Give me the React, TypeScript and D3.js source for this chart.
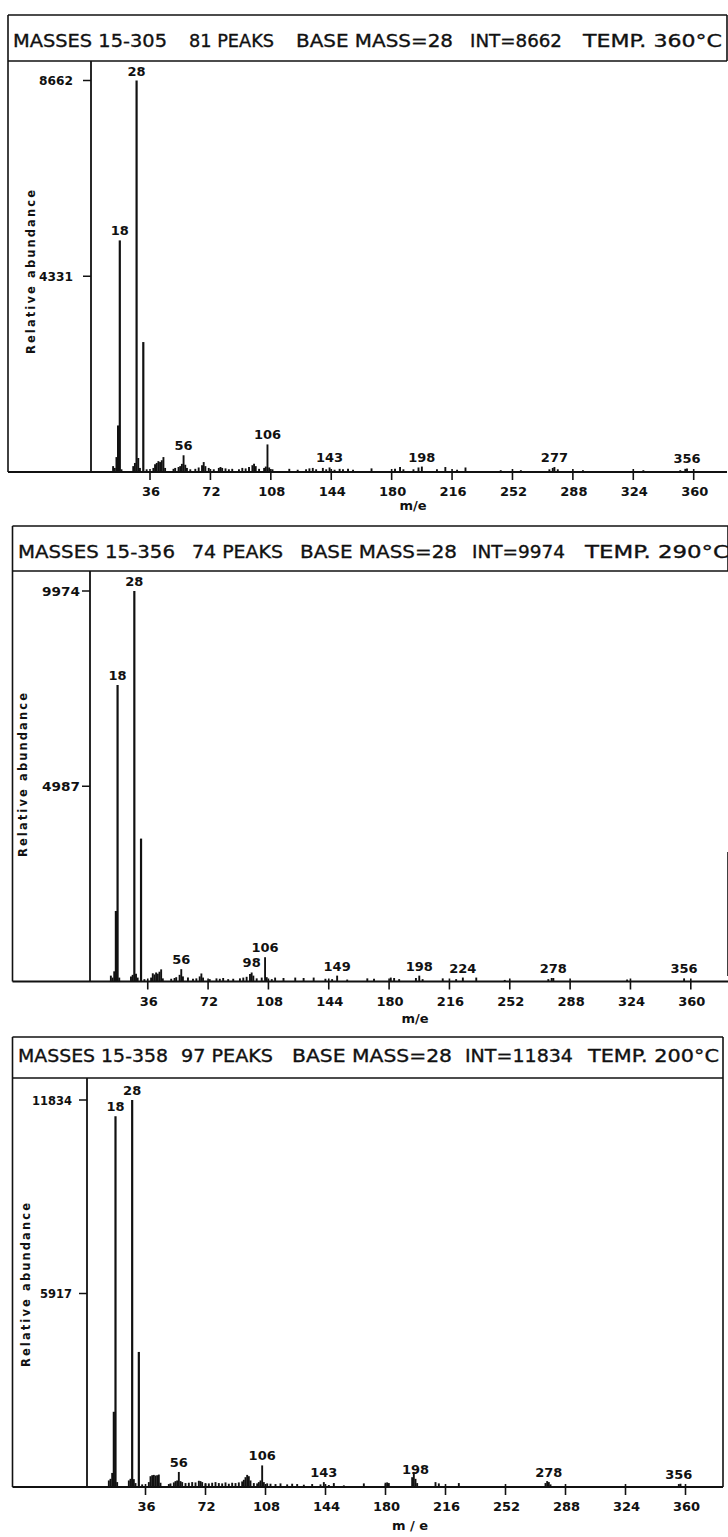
import React from "react";
import * as d3 from "d3";

// ---------- DATA ----------
const xTicks = [36, 72, 108, 144, 180, 216, 252, 288, 324, 360];

const header1 = ["MASSES 15-305", "81 PEAKS", "BASE MASS=28", "INT=8662", "TEMP. 360°C"];
const header2 = ["MASSES 15-356", "74 PEAKS", "BASE MASS=28", "INT=9974", "TEMP. 290°C"];
const header3 = ["MASSES 15-358", "97 PEAKS", "BASE MASS=28", "INT=11834", "TEMP. 200°C"];

const yMax1 = 8662;
const yMax2 = 9974;
const yMax3 = 11834;

const labels1 = [18, 28, 56, 106, 143, 198, 277, 356];
const labels2 = [18, 28, 56, 98, 106, 149, 198, 224, 278, 356];
const labels3 = [18, 28, 56, 106, 143, 198, 278, 356];

// [m/e, abundance]
const peaks1: [number, number][] = [
  [14, 130], [15, 90], [16, 330], [17, 1030], [18, 5124], [19, 60], [26, 130], [27, 200],
  [28, 8662], [29, 310], [30, 90], [32, 2875], [34, 60], [38, 90], [39, 170], [40, 200],
  [41, 240], [42, 220], [43, 260], [44, 330], [45, 90], [50, 70], [51, 90], [53, 110],
  [54, 130], [55, 180], [56, 370], [57, 160], [58, 90], [60, 60], [63, 70], [65, 100],
  [67, 150], [68, 220], [69, 130], [71, 90], [74, 60], [77, 90], [78, 110], [79, 90],
  [81, 80], [83, 60], [85, 70], [89, 60], [91, 90], [93, 80], [95, 110], [97, 150],
  [98, 180], [99, 130], [101, 70], [104, 90], [105, 120], [106, 610], [107, 100], [109, 60],
  [119, 70], [124, 50], [129, 60], [131, 80], [133, 90], [135, 60], [139, 90], [141, 60],
  [143, 100], [146, 50], [149, 70], [151, 60], [154, 70], [157, 50], [168, 80], [182, 70],
  [185, 110], [187, 60], [193, 60], [196, 100], [198, 120], [207, 60], [212, 110], [219, 50],
  [224, 100], [245, 40], [257, 40], [274, 60], [276, 90], [277, 110], [279, 60], [294, 40],
  [330, 40], [352, 40], [355, 70], [356, 80],
];

const peaks2: [number, number][] = [
  [14, 150], [15, 100], [16, 260], [17, 1800], [18, 7570], [19, 100], [26, 130], [27, 170],
  [28, 9974], [29, 200], [30, 100], [32, 3650], [34, 60], [38, 100], [39, 210], [40, 180],
  [41, 230], [42, 200], [43, 250], [44, 310], [45, 80], [50, 70], [52, 90], [53, 110],
  [55, 170], [56, 315], [57, 130], [60, 100], [63, 70], [65, 80], [67, 130], [68, 205],
  [69, 100], [73, 60], [77, 80], [79, 70], [81, 90], [84, 60], [87, 70], [91, 80],
  [93, 100], [95, 120], [97, 190], [98, 230], [99, 150], [101, 80], [104, 100], [106, 620],
  [107, 110], [110, 60], [112, 100], [117, 90], [124, 100], [129, 90], [135, 100], [142, 70],
  [146, 60], [149, 150], [155, 50], [167, 80], [171, 70], [181, 100], [183, 90], [186, 60],
  [196, 90], [198, 150], [200, 60], [212, 80], [220, 60], [224, 100], [232, 100], [249, 40],
  [275, 60], [277, 90], [278, 90], [322, 50], [356, 80],
];

const peaks3: [number, number][] = [
  [14, 200], [15, 250], [16, 430], [17, 2300], [18, 11340], [19, 150], [26, 200], [27, 250],
  [28, 11834], [29, 240], [30, 120], [32, 4130], [34, 80], [38, 150], [39, 330], [40, 360],
  [41, 370], [42, 350], [43, 360], [44, 380], [45, 130], [50, 90], [51, 110], [53, 140],
  [54, 180], [55, 200], [56, 460], [57, 180], [58, 150], [60, 120], [62, 130], [64, 150],
  [66, 140], [68, 190], [69, 180], [70, 150], [72, 120], [74, 110], [76, 130], [78, 150],
  [80, 120], [82, 110], [84, 140], [86, 100], [88, 130], [90, 120], [92, 140], [94, 170],
  [95, 220], [96, 300], [97, 370], [98, 330], [99, 200], [101, 120], [103, 110], [104, 150],
  [105, 200], [106, 660], [107, 150], [109, 110], [111, 100], [114, 90], [117, 110], [121, 80],
  [124, 100], [127, 90], [131, 70], [136, 90], [141, 80], [143, 150], [146, 60], [149, 120],
  [155, 50], [167, 110], [180, 130], [181, 140], [182, 120], [196, 300], [197, 460], [198, 250],
  [199, 120], [210, 150], [212, 110], [224, 120], [276, 120], [277, 180], [278, 150], [279, 80],
  [356, 90], [357, 100],
];

// ---------- LAYOUT ----------
type Cfg = {
  left: number; right: number; boxTop: number; hdrBot: number; hdrBase: number;
  hdrSpans: [number, number][];
  axisX: number; topY: number; base: number; x0: number; x360: number;
  tickLabY: number; meX: number; meY: number; meText: string;
  yLabX: number; yLabC: number; rightEdge?: [number, number];
  yLabEnd: number; digitW: number;
};

const cfg1: Cfg = {
  left: 8, right: 727, boxTop: 15, hdrBot: 61, hdrBase: 47,
  hdrSpans: [[13, 167], [189, 274], [296, 453], [470, 562], [583, 722]],
  axisX: 91, topY: 80.5, base: 472, x0: 89.6, x360: 693.7,
  tickLabY: 496, meX: 413, meY: 510, meText: "m/e",
  yLabX: 31, yLabC: 272, yLabEnd: 73, digitW: 8.5,
};
const cfg2: Cfg = {
  left: 12.5, right: 728, boxTop: 526, hdrBot: 571, hdrBase: 557.5,
  hdrSpans: [[18, 175], [192, 283], [300, 457], [472, 565], [585, 729]],
  axisX: 90, topY: 591, base: 981.5, x0: 87.4, x360: 690.8,
  tickLabY: 1006, meX: 415, meY: 1023, meText: "m/e",
  yLabX: 23, yLabC: 775, rightEdge: [852, 976], yLabEnd: 80, digitW: 9.5,
};
const cfg3: Cfg = {
  left: 12.5, right: 723, boxTop: 1037, hdrBot: 1078, hdrBase: 1061.5,
  hdrSpans: [[18, 168], [181, 273], [292, 452], [465, 573], [588, 719]],
  axisX: 87, topY: 1100, base: 1487, x0: 85.5, x360: 685.5,
  tickLabY: 1511, meX: 410, meY: 1530, meText: "m / e",
  yLabX: 26, yLabC: 1285, rightEdge: [1078, 1487], yLabEnd: 72, digitW: 8,
};

const INK = "#111";
const FONT = "'DejaVu Sans', Verdana, sans-serif";

function Panel({ cfg, peaks, labels, header, yMax }: {
  cfg: Cfg; peaks: [number, number][]; labels: number[]; header: string[]; yMax: number;
}) {
  const x = d3.scaleLinear().domain([0, 360]).range([cfg.x0, cfg.x360]);
  const y = d3.scaleLinear().domain([0, yMax]).range([cfg.base, cfg.topY]);
  const yTicks = [yMax, Math.round(yMax / 2)];
  const valueOf = (m: number) => {
    const p = peaks.find((d) => d[0] === m);
    return p ? p[1] : 0;
  };
  return (
    <g>
      {/* header box */}
      <line x1={cfg.left} x2={cfg.right} y1={cfg.boxTop} y2={cfg.boxTop} stroke={INK} strokeWidth={1.6} />
      <line x1={cfg.left} x2={cfg.right} y1={cfg.hdrBot} y2={cfg.hdrBot} stroke={INK} strokeWidth={1.6} />
      <line x1={cfg.left} x2={cfg.left} y1={cfg.boxTop} y2={cfg.base} stroke={INK} strokeWidth={1.6} />
      <line x1={cfg.right} x2={cfg.right} y1={cfg.boxTop} y2={cfg.hdrBot} stroke={INK} strokeWidth={1.6} />
      {cfg.rightEdge && (
        <line x1={cfg.right} x2={cfg.right} y1={cfg.rightEdge[0]} y2={cfg.rightEdge[1]} stroke={INK} strokeWidth={1.6} />
      )}
      {header.map((t, i) => (
        <text key={i} x={cfg.hdrSpans[i][0]} y={cfg.hdrBase} fontFamily={FONT} fontSize={18}
          fill={INK} stroke={INK} strokeWidth={0.35}
          textLength={cfg.hdrSpans[i][1] - cfg.hdrSpans[i][0]} lengthAdjust="spacingAndGlyphs">
          {t}
        </text>
      ))}
      {/* axes */}
      <line x1={cfg.axisX} x2={cfg.axisX} y1={cfg.hdrBot} y2={cfg.base} stroke={INK} strokeWidth={1.8} />
      <line x1={cfg.left} x2={cfg.right} y1={cfg.base} y2={cfg.base} stroke={INK} strokeWidth={2} />
      {yTicks.map((t) => {
        const w = String(t).length * cfg.digitW;
        return (
          <g key={t}>
            <line x1={cfg.axisX - 8} x2={cfg.axisX} y1={y(t)} y2={y(t)} stroke={INK} strokeWidth={1.5} />
            <text x={cfg.yLabEnd - w} y={y(t) + 4.5} fontFamily={FONT} fontWeight="bold" fontSize={12}
              fill={INK} textLength={w} lengthAdjust="spacingAndGlyphs">{t}</text>
          </g>
        );
      })}
      <text transform={`translate(${cfg.yLabX + 4},${cfg.yLabC}) rotate(-90)`} textAnchor="middle"
        fontFamily={FONT} fontWeight="bold" fontSize={11.5} fill={INK} textLength={164}
        lengthAdjust="spacing">Relative abundance</text>
      {xTicks.map((t) => (
        <g key={t}>
          <line x1={x(t)} x2={x(t)} y1={cfg.base - 3} y2={cfg.base + 8} stroke={INK} strokeWidth={1.6} />
          <text x={x(t) + 1} y={cfg.tickLabY} textAnchor="middle" fontFamily={FONT} fontWeight="bold"
            fontSize={13} fill={INK}>{t}</text>
        </g>
      ))}
      <text x={cfg.meX} y={cfg.meY} textAnchor="middle" fontFamily={FONT} fontWeight="bold" fontSize={13}
        fill={INK}>{cfg.meText}</text>
      {/* peaks */}
      {peaks.map(([m, v]) => (
        <line key={m} x1={x(m)} x2={x(m)} y1={cfg.base} y2={y(v)} stroke={INK}
          strokeWidth={v > yMax * 0.1 ? 2.2 : 1.9} />
      ))}
      {labels.map((m) => (
        <text key={m} x={x(m)} y={y(valueOf(m)) - 5} textAnchor="middle" fontFamily={FONT}
          fontWeight="bold" fontSize={13} fill={INK}>{m}</text>
      ))}
    </g>
  );
}

export default function App() {
  return (
    <svg width={728} height={1537} viewBox="0 0 728 1537"
      style={{ position: "absolute", left: 0, top: 0, display: "block", background: "#fff" }}>
      <rect x={0} y={0} width={728} height={1537} fill="#fff" />
      <Panel cfg={cfg1} peaks={peaks1} labels={labels1} header={header1} yMax={yMax1} />
      <Panel cfg={cfg2} peaks={peaks2} labels={labels2} header={header2} yMax={yMax2} />
      <Panel cfg={cfg3} peaks={peaks3} labels={labels3} header={header3} yMax={yMax3} />
    </svg>
  );
}
